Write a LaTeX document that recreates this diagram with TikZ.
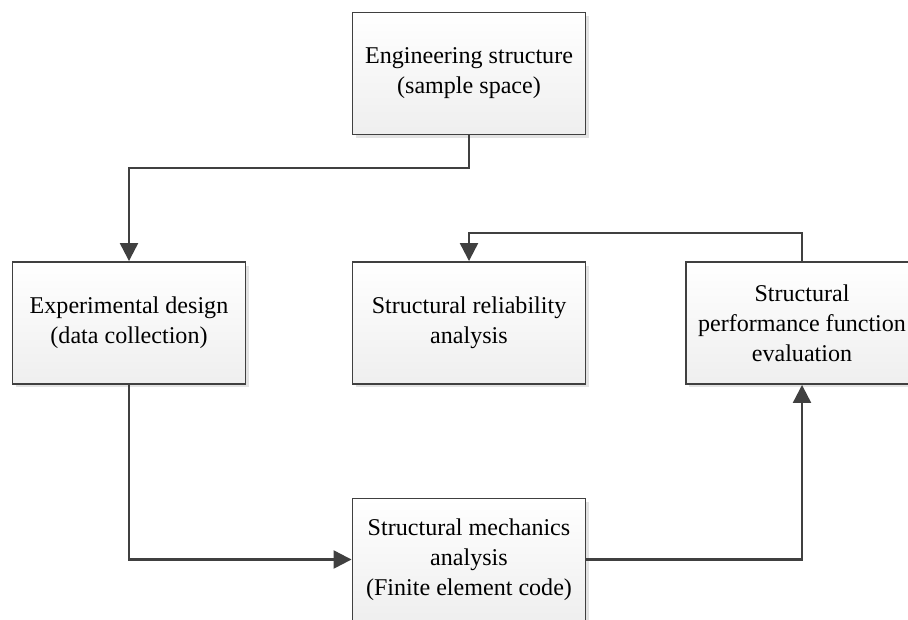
\documentclass[tikz,border=0pt]{standalone}
\usepackage{fontspec}
\setmainfont{Liberation Serif}
\usetikzlibrary{arrows.meta,shadows}
\definecolor{edge}{HTML}{404040}
\begin{document}
\begin{tikzpicture}[
                x = 0.02cm, y = -0.02cm,
                box/.style = {draw = edge, line width = 1.1pt, rectangle, align = center,
                    minimum width = 4.66cm, minimum height = 2.44cm, inner sep = 1mm,
                    top color = white, bottom color = gray!13,
                    drop shadow = {shadow xshift = 0.07cm, shadow yshift = -0.07cm,
                        fill = gray!22, opacity = 1},
                    font = \fontsize{13.7pt}{17pt}\selectfont},
                arr/.style = {draw = edge, line width = 1.3pt,
                    -{Triangle[length = 0.36cm, width = 0.36cm]}},
            ]
            \useasboundingbox (0,0) rectangle (908,619);

            \node (eng) [box] at (469,73.5){Engineering structure\\(sample space)};
            \node (exp) [box] at (129,323){Experimental design\\(data collection)};
            \node (rel) [box] at (469,323){Structural reliability\\analysis};
            \node (perf) [box] at (802,323){Structural\\performance function\\evaluation};
            \node (mech) [box] at (469,559.5){Structural mechanics\\analysis\\(Finite element code)};

            \coordinate (k1) at (469,168);
            \coordinate (k2) at (802,233);

            \path[arr] (eng) -- (k1) -| (exp);
            \path[arr] (exp) |- (mech);
            \path[arr] (mech) -| (perf);
            \path[arr] (perf) -- (k2) -| (rel);
        \end{tikzpicture}
\end{document}
